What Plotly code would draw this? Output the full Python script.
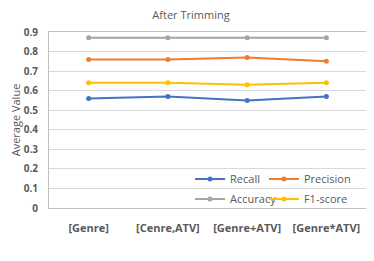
import plotly.graph_objects as go

categories = ["[Genre]", "[Cenre,ATV]", "[Genre+ATV]", "[Genre*ATV]"]
recall = [0.56, 0.57, 0.55, 0.57]
precision = [0.76, 0.76, 0.77, 0.75]
accuracy = [0.87, 0.87, 0.87, 0.87]
f1_score = [0.64, 0.64, 0.63, 0.64]
y_ticks = [0, 0.1, 0.2, 0.3, 0.4, 0.5, 0.6, 0.7, 0.8, 0.9]
y_tick_labels = ["0", "0.1", "0.2", "0.3", "0.4", "0.5", "0.6", "0.7", "0.8", "0.9"]

series = [
    ("Recall", recall, "#4472C4", "legend"),
    ("Precision", precision, "#ED7D31", "legend2"),
    ("Accuracy", accuracy, "#A5A5A5", "legend3"),
    ("F1-score", f1_score, "#FFC000", "legend4"),
]

fig = go.Figure()
for name, vals, color, lg in series:
    fig.add_trace(go.Scatter(
        x=categories, y=vals, name=name, mode="lines+markers",
        line=dict(color=color, width=2), marker=dict(size=5, color=color),
        legend=lg, showlegend=True,
    ))

font_family = "Open Sans"
legend_common = dict(
    orientation="h", xanchor="left", yanchor="middle",
    font=dict(family=font_family, size=11, color="#595959"),
    bgcolor="rgba(0,0,0,0)", itemwidth=30,
)
col1_x, col2_x = 0.445, 0.678
row1_y, row2_y = 0.165, 0.051
# page body has an 8px margin, so the figure is sized/positioned to compensate
fig.update_layout(
    width=366, height=253, showlegend=True,
    margin=dict(l=41, r=8, t=24, b=53, autoexpand=False),
    paper_bgcolor="white", plot_bgcolor="white",
    title=dict(text="After Trimming", x=0.5, xanchor="center", y=1 - 7 / 253, yanchor="middle",
               font=dict(family=font_family, size=11, color="#595959")),
    xaxis=dict(
        type="category", range=[-0.5, 3.5],
        tickfont=dict(family=font_family, size=11, color="#595959", weight="bold"),
        showgrid=False, showline=True, linecolor="#BFBFBF", mirror=True,
        ticks="", ticklabelstandoff=10, automargin=False,
    ),
    yaxis=dict(
        range=[0, 0.9], tickvals=y_ticks, ticktext=y_tick_labels,
        tickfont=dict(family=font_family, size=10, color="#595959", weight="bold"),
        showgrid=True, gridcolor="#D9D9D9", gridwidth=1,
        showline=True, linecolor="#BFBFBF", mirror=True, zeroline=False,
        title=dict(text="Average Value", font=dict(family=font_family, size=11, color="#595959"), standoff=8),
        ticklabelstandoff=8, automargin=False,
    ),
    legend=dict(x=col1_x, y=row1_y, **legend_common),
    legend2=dict(x=col2_x, y=row1_y, **legend_common),
    legend3=dict(x=col1_x, y=row2_y, **legend_common),
    legend4=dict(x=col2_x, y=row2_y, **legend_common),
)

fig.write_html("out.html")
